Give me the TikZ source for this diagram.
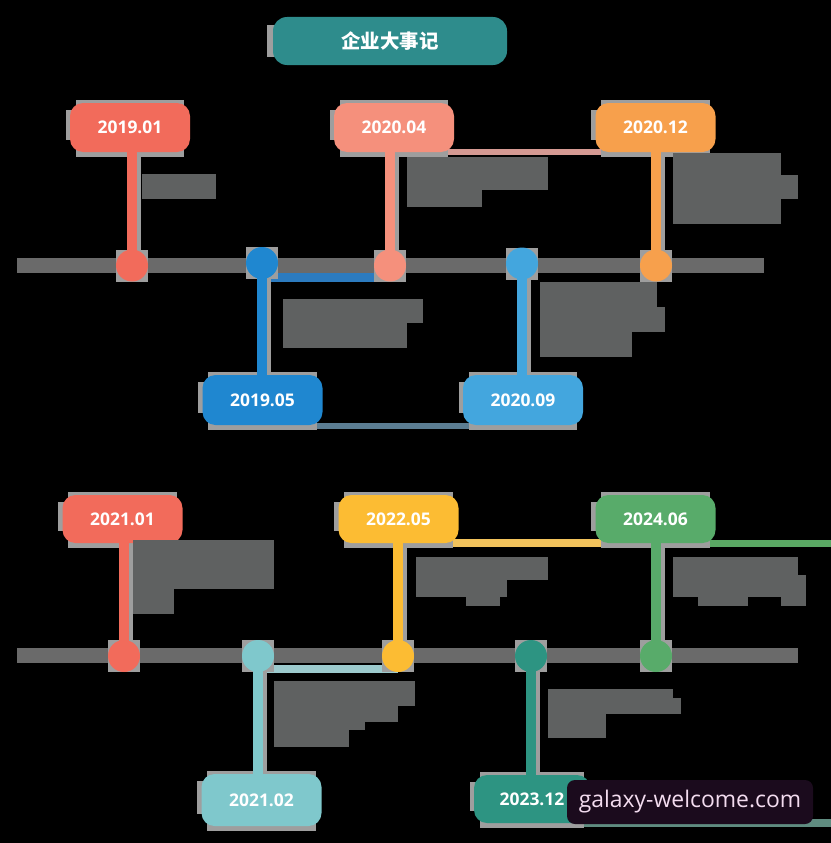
\documentclass[tikz,border=0pt]{standalone}
\usepackage{fontspec}
\setmainfont{Open Sans}
\newfontfamily\cjk{Noto Sans CJK SC}
\definecolor{rot}{HTML}{F26B5B}
\definecolor{lachs}{HTML}{F5907C}
\definecolor{orange}{HTML}{F7A04C}
\definecolor{blau}{HTML}{1F87D0}
\definecolor{hellblau}{HTML}{43A6DE}
\definecolor{tuerkis}{HTML}{7FC8CC}
\definecolor{gelb}{HTML}{FCBC33}
\definecolor{petrol}{HTML}{2D9482}
\definecolor{gruen}{HTML}{58AB6A}
\definecolor{titelgruen}{HTML}{2E8C8C}
\definecolor{balken}{HTML}{6A6A6A}
\definecolor{blocktext}{HTML}{5F6161}
\definecolor{artgrau}{HTML}{9E9E9E}
\definecolor{markegrund}{HTML}{1B0B1D}
\definecolor{markeschrift}{HTML}{F3DCEF}
\pgfdeclarelayer{hinten}
\pgfdeclarelayer{mitte}
\pgfsetlayers{hinten,mitte,main}
\newcommand\datumfont{\fontsize{17.5}{20}\selectfont\bfseries}
\begin{document}
\begin{tikzpicture}[x=1bp,y=-1bp,
		datum/.style={rectangle,rounded corners=13bp,minimum width=120bp,minimum height=49bp,inner sep=0pt,text=white,font=\datumfont},
		punkt/.style={circle,minimum size=32bp,inner sep=0pt},
		stiel/.style={line width=10bp},
		block/.style={fill=blocktext},
		artefakt/.style={fill=artgrau}]
	\useasboundingbox (0,0) rectangle (831,843);
	% Titel
	\node[datum,fill=titelgruen,minimum width=234bp,minimum height=48bp,rounded corners=14bp,font=\fontsize{19.5}{22}\selectfont\bfseries] (titel) at (390,41) {\cjk 企业大事记};
	% erste Reihe
	\node[datum,fill=rot] (d1901) at (130,127.5) {2019.01};
	\node[datum,fill=lachs] (d2004) at (394,127.5) {2020.04};
	\node[datum,fill=orange] (d2012) at (655.5,127.5) {2020.12};
	\node[datum,fill=blau,minimum height=50bp] (l1905) at (262.5,400) {2019.05};
	\node[datum,fill=hellblau,minimum height=50bp] (l2009) at (523,400) {2020.09};
	\node[punkt,fill=rot] (c1901) at (132,265.5) {};
	\node[punkt,fill=blau] (c1905) at (262,263) {};
	\node[punkt,fill=lachs] (c2004) at (390,265.5) {};
	\node[punkt,fill=hellblau] (c2009) at (522,263.5) {};
	\node[punkt,fill=orange] (c2012) at (656,265.5) {};
	% zweite Reihe
	\node[datum,fill=rot,minimum height=48bp] (d2101) at (122.5,519) {2021.01};
	\node[datum,fill=gelb,minimum height=48bp] (d2205) at (398.5,519) {2022.05};
	\node[datum,fill=gruen,minimum height=48bp] (d2406) at (655.5,519) {2024.06};
	\node[datum,fill=tuerkis,minimum height=52bp] (l2102) at (261.5,800) {2021.02};
	\node[datum,fill=petrol,minimum width=116bp,minimum height=48bp] (l2312) at (532,799) {2023.12};
	\node[punkt,fill=rot] (c2101) at (124,656) {};
	\node[punkt,fill=tuerkis] (c2102) at (258,656) {};
	\node[punkt,fill=gelb] (c2205) at (398,656) {};
	\node[punkt,fill=petrol] (c2312) at (531,656) {};
	\node[punkt,fill=gruen] (c2406) at (656,656) {};
	\coordinate (rand1) at (831,544);
	\coordinate (rand2) at (831,825);
	% Textbloecke
	\fill[block] (142,174) rectangle (216,199);
	\fill[block] (407,157) rectangle (548,190);
	\fill[block] (407,190) rectangle (482,207);
	\fill[block] (673,153) rectangle (781,224);
	\fill[block] (781,175) rectangle (798,199);
	\fill[block] (283,299) rectangle (423,323);
	\fill[block] (283,323) rectangle (407,348);
	\fill[block] (540,282) rectangle (657,307);
	\fill[block] (540,307) rectangle (665,332);
	\fill[block] (540,332) rectangle (632,357);
	\fill[block] (133,540) rectangle (274,589);
	\fill[block] (133,589) rectangle (174,614);
	\fill[block] (416,557) rectangle (548,580);
	\fill[block] (416,580) rectangle (507,597);
	\fill[block] (466,597) rectangle (500,606);
	\fill[block] (673,557) rectangle (798,575);
	\fill[block] (673,575) rectangle (806,597);
	\fill[block] (698,597) rectangle (748,606);
	\fill[block] (781,597) rectangle (806,606);
	\fill[block] (274,681) rectangle (415,706);
	\fill[block] (274,706) rectangle (398,722);
	\fill[block] (274,722) rectangle (365,730);
	\fill[block] (274,730) rectangle (349,747);
	\fill[block] (548,689) rectangle (673,698);
	\fill[block] (548,698) rectangle (681,714);
	\fill[block] (548,714) rectangle (606,738);
	% Wasserzeichen
	\node[rectangle,rounded corners=8bp,fill=markegrund,minimum width=246bp,minimum height=44bp,text=markeschrift,font=\fontsize{23}{26}\selectfont] (marke) at (690,802) {galaxy-welcome.com};
	\begin{pgfonlayer}{hinten}
		\fill[black] (0,0) rectangle (831,843);
		\fill[balken] (17,258) rectangle (764,273);
		\fill[balken] (17,648) rectangle (798,663);
		% Verbindungen
		\draw[line width=6bp,draw={rgb,255:red,213;green,154;blue,147}] (d2004.south) to (d2012.south);
		\draw[line width=9bp,draw={rgb,255:red,44;green,123;blue,191}] ([yshift=-14.5bp]c1905.center) to ([yshift=-14.5bp]c2004.center |- c1905.center);
		\draw[line width=6bp,draw={rgb,255:red,91;green,125;blue,146}] ([yshift=-1bp]l1905.south) to ([yshift=-1bp]l2009.south);
		\draw[line width=8bp,draw={rgb,255:red,242;green,195;blue,92}] (d2205.south) to (d2406.south);
		\draw[line width=7bp,draw={rgb,255:red,90;green,168;blue,100}] (d2406.south) to (d2406.south -| rand1);
		\draw[line width=8bp,draw={rgb,255:red,156;green,202;blue,205}] ([yshift=-13bp]c2102.center) to ([yshift=-13bp]c2205.center);
		\draw[line width=8bp,draw={rgb,255:red,95;green,140;blue,128}] (l2312.south) to (l2312.south -| rand2);
		% Reste
		\fill[artefakt] ([xshift=-6bp,yshift=-8bp]titel.north west) rectangle ([xshift=3bp,yshift=8bp]titel.south west);
		\foreach \n in {d1901,d2004,d2012,l1905,l2009,d2101,d2205,d2406,l2102,l2312}{
			\fill[artefakt] ([xshift=6bp,yshift=3bp]\n.north west) rectangle ([xshift=-6bp,yshift=-5bp]\n.south east);
			\fill[artefakt] ([xshift=-4bp,yshift=-7bp]\n.north west) rectangle ([xshift=7bp,yshift=12bp]\n.south west);
		}
		\foreach \c in {c1901,c1905,c2004,c2009,c2012,c2101,c2102,c2205,c2312,c2406}
			\fill[artefakt] ([shift={(-16bp,-16bp)}]\c.center) rectangle ([shift={(16bp,16bp)}]\c.center);
	\end{pgfonlayer}
	\begin{pgfonlayer}{mitte}
		% Stiele
		\foreach \d/\c/\f in {d1901/c1901/rot,d2004/c2004/lachs,d2012/c2012/orange,l1905/c1905/blau,l2009/c2009/hellblau,d2101/c2101/rot,d2205/c2205/gelb,d2406/c2406/gruen,l2102/c2102/tuerkis,l2312/c2312/petrol}{
			\draw[stiel,line width=14bp,artgrau] ([xshift=2bp]\c |- \d.center) to ([xshift=2bp]\c.center);
			\draw[stiel,\f] (\c |- \d.center) to (\c.center);
		}
	\end{pgfonlayer}
\end{tikzpicture}
\end{document}
